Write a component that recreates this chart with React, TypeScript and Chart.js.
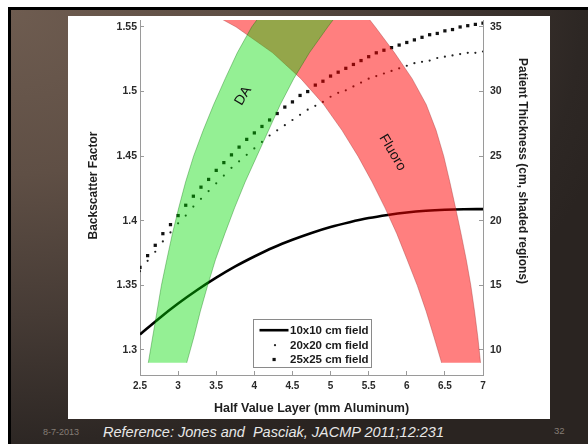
import React, { useEffect, useRef } from 'react';
import { Chart, registerables } from 'chart.js';

Chart.register(...registerables);

const FONT = '"Liberation Sans", Arial, Helvetica, sans-serif';

// ---- data ----
const seriesNames = ['10x10 cm field', '20x20 cm field', '25x25 cm field'];
const bandNames = ['DA', 'Fluoro'];

// Half value layer (mm Al) for the marker series
const hvl = [
  2.5, 2.6, 2.7, 2.8, 2.9, 3.0, 3.1, 3.2, 3.3, 3.4,
  3.5, 3.6, 3.7, 3.8, 3.9, 4.0, 4.1, 4.2, 4.3, 4.4,
  4.5, 4.6, 4.7, 4.8, 4.9, 5.0, 5.1, 5.2, 5.3, 5.4,
  5.5, 5.6, 5.7, 5.8, 5.9, 6.0, 6.1, 6.2, 6.3, 6.4,
  6.5, 6.6, 6.7, 6.8, 6.9, 7.0,
];

// 25x25 cm field backscatter factor (square markers)
const bsf25 = [
  1.364, 1.373, 1.381, 1.390, 1.397, 1.404, 1.412, 1.419, 1.426, 1.432,
  1.439, 1.445, 1.451, 1.457, 1.463, 1.468, 1.473, 1.478, 1.483, 1.488,
  1.492, 1.497, 1.500, 1.505, 1.508, 1.512, 1.515, 1.518, 1.521, 1.524,
  1.527, 1.530, 1.532, 1.534, 1.536, 1.538, 1.540, 1.542, 1.544, 1.545,
  1.547, 1.548, 1.550, 1.551, 1.552, 1.553,
];

// 20x20 cm field backscatter factor (dot markers)
const bsf20 = [
  1.361, 1.369, 1.376, 1.384, 1.391, 1.398, 1.404, 1.411, 1.417, 1.423,
  1.429, 1.435, 1.441, 1.446, 1.451, 1.456, 1.461, 1.466, 1.470, 1.474,
  1.478, 1.482, 1.486, 1.489, 1.492, 1.496, 1.499, 1.501, 1.504, 1.507,
  1.510, 1.512, 1.514, 1.516, 1.518, 1.520, 1.522, 1.523, 1.524, 1.526,
  1.527, 1.528, 1.529, 1.530, 1.530, 1.531,
];

// 10x10 cm field (solid line)
const lineHvl = [2.5, 2.75, 3.0, 3.25, 3.5, 3.75, 4.0, 4.25, 4.5, 4.75, 5.0, 5.25, 5.5, 5.75, 6.0, 6.25, 6.5, 6.75, 7.0];
const bsf10 = [1.312, 1.3244, 1.3359, 1.3464, 1.3559, 1.3646, 1.3723, 1.3793, 1.3853, 1.3906, 1.3952, 1.3989, 1.4021, 1.4045, 1.4064, 1.4077, 1.4085, 1.4089, 1.409];

// Shaded regions: patient thickness (cm) vs HVL edges
const bandThickness = [9, 11, 13, 15, 17, 19, 21, 23, 25, 27, 29, 31, 33, 35, 36];
const daMinHvl = [2.609, 2.666, 2.724, 2.781, 2.852, 2.925, 3.008, 3.098, 3.203, 3.329, 3.467, 3.618, 3.776, 3.965, 4.09];
const daMaxHvl = [3.113, 3.207, 3.292, 3.388, 3.491, 3.613, 3.741, 3.879, 4.033, 4.187, 4.341, 4.517, 4.722, 4.963, 5.091];
const fluoroMinHvl = [6.457, 6.357, 6.254, 6.137, 6.004, 5.869, 5.714, 5.545, 5.36, 5.15, 4.91, 4.61, 4.24, 3.761, 3.451];
const fluoroMaxHvl = [6.968, 6.932, 6.889, 6.84, 6.78, 6.712, 6.64, 6.565, 6.485, 6.385, 6.255, 6.07, 5.84, 5.587, 5.455];

const xTitle = 'Half Value Layer (mm Aluminum)';
const yTitle = 'Backscatter Factor';
const y2Title = 'Patient Thickness (cm, shaded regions)';
const footerDate = '8-7-2013';
const footerRef = 'Reference: Jones and  Pasciak, JACMP 2011;12:231';
const footerPage = '32';

// ---- helpers ----
const fmt = (v: number | string) => String(Math.round(Number(v) * 100) / 100);

const bandShape = (minArr: number[], maxArr: number[]) => {
  const pts = minArr.map((h, i) => ({ x: h, y: bandThickness[i] }));
  for (let i = maxArr.length - 1; i >= 0; i--) pts.push({ x: maxArr[i], y: bandThickness[i] });
  return pts;
};

const overlayPlugin = {
  id: 'overlayText',
  afterDatasetsDraw(chart: any) {
    const { ctx, scales } = chart;
    const place = [
      { text: bandNames[0], x: 3.855, y: 29.67, angle: -59 },
      { text: bandNames[1], x: 5.813, y: 25.28, angle: 59.4 },
    ];
    ctx.save();
    ctx.fillStyle = '#111';
    ctx.font = `14px ${FONT}`;
    ctx.textAlign = 'center';
    ctx.textBaseline = 'middle';
    for (const p of place) {
      ctx.save();
      ctx.translate(scales.x.getPixelForValue(p.x), scales.y2.getPixelForValue(p.y));
      ctx.rotate((p.angle * Math.PI) / 180);
      ctx.fillText(p.text, 0, 0);
      ctx.restore();
    }
    ctx.restore();
  },
  afterDraw(chart: any) {
    const { ctx, chartArea: ca } = chart;
    ctx.save();
    // axis titles for the vertical axes
    ctx.fillStyle = '#1e1e1e';
    ctx.font = `bold 12px ${FONT}`;
    ctx.textAlign = 'center';
    ctx.textBaseline = 'middle';
    ctx.save();
    ctx.translate(ca.left - 46.5, ca.top + 165.5);
    ctx.rotate(-Math.PI / 2);
    ctx.fillText(yTitle, 0, 0);
    ctx.restore();
    ctx.save();
    ctx.translate(ca.right + 39.5, ca.top + 151);
    ctx.rotate(Math.PI / 2);
    ctx.fillText(y2Title, 0, 0);
    ctx.restore();

    // legend box
    const bx = Math.round(ca.left + 113) + 0.5;
    const by = Math.round(ca.top + 299) + 0.5;
    const bw = 118;
    const bh = 48;
    ctx.fillStyle = '#fff';
    ctx.fillRect(bx, by, bw, bh);
    ctx.strokeStyle = '#8a8a8a';
    ctx.lineWidth = 1;
    ctx.strokeRect(bx, by, bw, bh);
    const rows = [10.7, 25.7, 40];
    // line sample
    ctx.strokeStyle = '#000';
    ctx.lineWidth = 2.6;
    ctx.beginPath();
    ctx.moveTo(bx + 6, by + rows[0]);
    ctx.lineTo(bx + 35, by + rows[0]);
    ctx.stroke();
    // dot sample
    ctx.fillStyle = '#222';
    ctx.beginPath();
    ctx.arc(bx + 21.5, by + rows[1], 1.1, 0, Math.PI * 2);
    ctx.fill();
    // square sample
    ctx.fillStyle = '#111';
    ctx.fillRect(bx + 19, by + rows[2] - 1.6, 3.2, 3.2);
    ctx.fillStyle = '#1a1a1a';
    ctx.font = `bold 11.5px ${FONT}`;
    ctx.textAlign = 'left';
    seriesNames.forEach((n, i) => ctx.fillText(n, bx + 36.5, by + rows[i] + 0.5));
    ctx.restore();
  },
};

const tickFont = (size: number) => ({ family: FONT, size, weight: 'bold' as const });

export default function App() {
  const ref = useRef<HTMLCanvasElement>(null);

  useEffect(() => {
    if (!ref.current) return;
    const chart = new Chart(ref.current, {
      type: 'line',
      data: {
        datasets: [
          {
            label: bandNames[0],
            data: bandShape(daMinHvl, daMaxHvl),
            yAxisID: 'y2',
            fill: 'shape',
            backgroundColor: 'rgba(0, 220, 0, 0.42)',
            borderColor: 'rgba(0, 110, 0, 0.35)',
            borderWidth: 1,
            pointRadius: 0,
            tension: 0,
            order: 0,
          },
          {
            label: bandNames[1],
            data: bandShape(fluoroMinHvl, fluoroMaxHvl),
            yAxisID: 'y2',
            fill: 'shape',
            backgroundColor: 'rgba(255, 0, 0, 0.5)',
            borderColor: 'rgba(150, 40, 40, 0.35)',
            borderWidth: 1,
            pointRadius: 0,
            tension: 0,
            order: 1,
          },
          {
            label: seriesNames[0],
            data: lineHvl.map((h, i) => ({ x: h, y: bsf10[i] })),
            yAxisID: 'y',
            borderColor: '#000',
            borderWidth: 2.6,
            pointRadius: 0,
            cubicInterpolationMode: 'monotone',
            fill: false,
            order: 2,
          },
          {
            label: seriesNames[1],
            data: hvl.map((h, i) => ({ x: h, y: bsf20[i] })),
            yAxisID: 'y',
            showLine: false,
            pointStyle: 'circle',
            pointRadius: 1.1,
            pointBackgroundColor: '#222',
            pointBorderWidth: 0,
            fill: false,
            order: 3,
          },
          {
            label: seriesNames[2],
            data: hvl.map((h, i) => ({ x: h, y: bsf25[i] })),
            yAxisID: 'y',
            showLine: false,
            pointStyle: 'rect',
            pointRadius: 2.3,
            pointBackgroundColor: '#111',
            pointBorderWidth: 0,
            fill: false,
            order: 4,
          },
        ],
      },
      options: {
        responsive: false,
        animation: false,
        events: [],
        layout: { padding: 0 },
        plugins: {
          legend: { display: false },
          tooltip: { enabled: false },
          filler: { propagate: false },
        },
        scales: {
          x: {
            type: 'linear',
            min: 2.5,
            max: 7,
            ticks: {
              stepSize: 0.5,
              includeBounds: false,
              padding: 9.7,
              color: '#2a2a2a',
              font: tickFont(10),
              maxRotation: 0,
              autoSkip: false,
              callback: fmt,
            },
            grid: { display: true, drawOnChartArea: false, drawTicks: true, tickLength: -4, color: '#9a9a9a' },
            border: { display: true, color: '#9a9a9a', width: 1 },
            title: {
              display: true,
              text: xTitle,
              color: '#1e1e1e',
              font: { family: FONT, size: 12.5, weight: 'bold' },
              padding: { top: 0, bottom: 2.5 },
            },
            afterFit: (s: any) => {
              s.height = 44;
              s.paddingLeft = 0;
              s.paddingRight = 0;
            },
          },
          y: {
            type: 'linear',
            position: 'left',
            min: 1.2806,
            max: 1.5554,
            ticks: {
              stepSize: 0.05,
              includeBounds: false,
              padding: 7,
              color: '#2a2a2a',
              font: tickFont(10.5),
              callback: fmt,
            },
            grid: { display: true, drawOnChartArea: false, drawTicks: true, tickLength: -4, color: '#9a9a9a' },
            border: { display: true, color: '#9a9a9a', width: 1 },
            afterFit: (s: any) => {
              s.width = 72;
              s.paddingTop = 0;
              s.paddingBottom = 0;
            },
          },
          y2: {
            type: 'linear',
            position: 'right',
            min: 8.06,
            max: 35.54,
            ticks: {
              stepSize: 5,
              includeBounds: false,
              padding: 11,
              color: '#2a2a2a',
              font: tickFont(10.5),
              callback: fmt,
            },
            grid: { display: true, drawOnChartArea: false, drawTicks: true, tickLength: -4, color: '#9a9a9a' },
            border: { display: true, color: '#9a9a9a', width: 1 },
            afterFit: (s: any) => {
              s.width = 67;
              s.paddingTop = 0;
              s.paddingBottom = 0;
            },
          },
        },
      } as any,
      plugins: [overlayPlugin],
    });
    return () => chart.destroy();
  }, []);

  return (
    <div style={{ position: 'absolute', left: 0, top: 0, width: 588, height: 444, overflow: 'hidden', background: '#fff' }}>
      <div
        style={{
          position: 'absolute',
          left: 8,
          top: 7,
          width: 600,
          height: 450,
          boxSizing: 'border-box',
          borderLeft: '3px solid #000',
          borderTop: '3px solid #000',
          background:
            'radial-gradient(ellipse 620px 470px at 0px 0px, #6e5c50 0%, #5f4f45 35%, #463b35 65%, #2d2724 92%, #2a2421 100%)',
        }}
      />
      <div style={{ position: 'absolute', left: 68, top: 16, width: 482, height: 403, background: '#fff' }}>
        <canvas ref={ref} width={482} height={403} style={{ display: 'block', width: 482, height: 403 }} />
      </div>
      <div
        style={{
          position: 'absolute',
          left: 43,
          top: 426.5,
          fontFamily: FONT,
          fontSize: 9,
          lineHeight: '10px',
          color: '#857d75',
          whiteSpace: 'pre',
        }}
      >
        {footerDate}
      </div>
      <div
        style={{
          position: 'absolute',
          left: 103,
          top: 423.5,
          fontFamily: FONT,
          fontSize: 14.5,
          fontStyle: 'italic',
          lineHeight: '16px',
          color: '#e8e8e8',
          whiteSpace: 'pre',
        }}
      >
        {footerRef}
      </div>
      <div
        style={{
          position: 'absolute',
          left: 554,
          top: 425,
          fontFamily: FONT,
          fontSize: 9.5,
          lineHeight: '11px',
          color: '#857d75',
          whiteSpace: 'pre',
        }}
      >
        {footerPage}
      </div>
    </div>
  );
}
